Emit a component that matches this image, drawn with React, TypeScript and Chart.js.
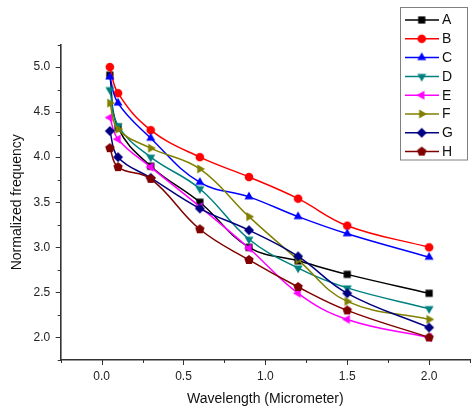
import React, { useEffect, useRef } from 'react';
import { Chart, registerables } from 'chart.js';

Chart.register(...registerables);

// ---- data ----
const wavelength = [0.05, 0.1, 0.3, 0.6, 0.9, 1.2, 1.5, 2.0];
const seriesA = [4.91, 4.33, 3.9, 3.5, 3.0, 2.85, 2.7, 2.49];
const seriesB = [5.0, 4.71, 4.3, 4.0, 3.78, 3.54, 3.24, 3.0];
const seriesC = [4.89, 4.6, 4.21, 3.72, 3.56, 3.34, 3.15, 2.89];
const seriesD = [4.75, 4.35, 4.0, 3.65, 3.09, 2.77, 2.55, 2.32];
const seriesE = [4.44, 4.2, 3.89, 3.45, 2.99, 2.49, 2.2, 2.0];
const seriesF = [4.6, 4.31, 4.1, 3.87, 3.34, 2.86, 2.4, 2.2];
const seriesG = [4.29, 4.0, 3.77, 3.43, 3.19, 2.9, 2.49, 2.11];
const seriesH = [4.1, 3.89, 3.76, 3.2, 2.86, 2.56, 2.3, 2.0];

const seriesNames = ['A', 'B', 'C', 'D', 'E', 'F', 'G', 'H'];
const seriesValues = [seriesA, seriesB, seriesC, seriesD, seriesE, seriesF, seriesG, seriesH];
const seriesColors = ['#000000', '#ff0000', '#0000ff', '#008080', '#ff00ff', '#808000', '#000080', '#800000'];
const markerShapes = ['square', 'circle', 'triUp', 'triDown', 'triLeft', 'triRight', 'diamond', 'pentagon'];

const xMin = -0.25;
const xMax = 2.25;
const yMin = 1.75;
const yMax = 5.25;
const tickStep = 0.25;

const xTitle = 'Wavelength (Micrometer)';
const yTitle = 'Normalized frequency';

const FONT = '"Liberation Sans", Arial, Helvetica, sans-serif';

function makeMarker(shape: string, color: string): HTMLCanvasElement {
  const s = 12;
  const c = document.createElement('canvas');
  c.width = s;
  c.height = s;
  const g = c.getContext('2d')!;
  const m = s / 2;
  g.fillStyle = color;
  g.beginPath();
  const poly = (n: number, r: number, start: number) => {
    for (let k = 0; k < n; k++) {
      const a = start + (k * 2 * Math.PI) / n;
      const px = m + r * Math.cos(a);
      const py = m + r * Math.sin(a);
      if (k === 0) g.moveTo(px, py);
      else g.lineTo(px, py);
    }
    g.closePath();
  };
  switch (shape) {
    case 'square':
      g.rect(m - 3.6, m - 3.6, 7.2, 7.2);
      break;
    case 'circle':
      g.arc(m, m, 4.3, 0, Math.PI * 2);
      break;
    case 'triUp':
      poly(3, 5.2, -Math.PI / 2);
      break;
    case 'triDown':
      poly(3, 5.2, Math.PI / 2);
      break;
    case 'triLeft':
      poly(3, 5.2, Math.PI);
      break;
    case 'triRight':
      poly(3, 5.2, 0);
      break;
    case 'diamond':
      poly(4, 5, -Math.PI / 2);
      break;
    case 'pentagon':
      poly(5, 4.9, -Math.PI / 2);
      break;
  }
  g.fill();
  return c;
}

const isMajor = (v: number) => Math.abs(v * 2 - Math.round(v * 2)) < 1e-6;

export default function App() {
  const ref = useRef<HTMLCanvasElement | null>(null);

  useEffect(() => {
    document.body.style.margin = '0';
    document.body.style.overflow = 'hidden';
    const canvas = ref.current;
    if (!canvas) return;

    const markers = seriesNames.map((_, i) => makeMarker(markerShapes[i], seriesColors[i]));

    const tickPlugin = {
      id: 'originTicks',
      afterDraw(chart: any) {
        const ctx = chart.ctx;
        const xs = chart.scales.x;
        const ys = chart.scales.y;
        const area = chart.chartArea;
        ctx.save();
        ctx.strokeStyle = '#333333';
        ctx.lineWidth = 1;
        ctx.beginPath();
        for (let v = xMin; v <= xMax + 1e-9; v += tickStep) {
          const px = Math.round(xs.getPixelForValue(v)) + 0.5;
          const len = isMajor(v) ? 5 : 3;
          ctx.moveTo(px, area.bottom);
          ctx.lineTo(px, area.bottom + len);
        }
        for (let v = yMin; v <= yMax + 1e-9; v += tickStep) {
          const py = Math.round(ys.getPixelForValue(v)) + 0.5;
          const len = isMajor(v) ? 5 : 3;
          ctx.moveTo(area.left, py);
          ctx.lineTo(area.left - len, py);
        }
        ctx.stroke();
        ctx.restore();
      },
    };

    const legendPlugin = {
      id: 'boxLegend',
      afterDraw(chart: any) {
        const ctx = chart.ctx;
        ctx.save();
        ctx.fillStyle = '#ffffff';
        ctx.fillRect(400.5, 7.5, 67, 152.5);
        ctx.strokeStyle = '#808080';
        ctx.lineWidth = 1;
        ctx.strokeRect(400.5, 7.5, 67, 152.5);
        ctx.font = `14px ${FONT}`;
        ctx.textBaseline = 'middle';
        ctx.textAlign = 'left';
        seriesNames.forEach((name, i) => {
          const y = 20 + i * 18.8;
          ctx.strokeStyle = seriesColors[i];
          ctx.lineWidth = 1.5;
          ctx.beginPath();
          ctx.moveTo(405, y);
          ctx.lineTo(439, y);
          ctx.stroke();
          ctx.drawImage(markers[i], 421.7 - 6, y - 6);
          ctx.fillStyle = '#111111';
          ctx.fillText(name, 442, y + 0.5);
        });
        ctx.restore();
      },
    };

    const datasets = seriesNames.map((name, i) => ({
      label: name,
      data: wavelength.map((x, k) => ({ x, y: seriesValues[i][k] })),
      borderColor: seriesColors[i],
      backgroundColor: seriesColors[i],
      borderWidth: 1.5,
      pointStyle: markers[i],
      pointRadius: 4.5,
      pointHoverRadius: 4.5,
      tension: 0.4,
      order: seriesNames.length - 1 - i,
      fill: false,
    }));

    const chart = new Chart(canvas, {
      type: 'line',
      data: { datasets },
      options: {
        responsive: false,
        animation: false,
        devicePixelRatio: 1,
        layout: { padding: { top: 44.5, right: 0, bottom: 0, left: 0 } },
        plugins: {
          legend: { display: false },
          tooltip: { enabled: false },
        },
        scales: {
          x: {
            type: 'linear',
            min: xMin,
            max: xMax,
            afterFit: (s: any) => {
              s.height = 52;
            },
            grid: { display: false, drawTicks: true, tickLength: 5 },
            border: { display: true, color: '#333333', width: 1.6 },
            ticks: {
              stepSize: tickStep,
              autoSkip: false,
              maxRotation: 0,
              padding: 4,
              color: '#222222',
              font: { family: FONT, size: 12 },
              callback: (v: any) => (isMajor(Number(v)) ? Number(v).toFixed(1) : ''),
            },
            title: {
              display: true,
              text: xTitle,
              color: '#111111',
              font: { family: FONT, size: 14 },
              padding: { top: 0, bottom: 4 },
            },
          },
          y: {
            type: 'linear',
            min: yMin,
            max: yMax,
            afterFit: (s: any) => {
              s.width = 60.7;
            },
            grid: { display: false, drawTicks: true, tickLength: 5 },
            border: { display: true, color: '#333333', width: 1.6 },
            ticks: {
              stepSize: tickStep,
              autoSkip: false,
              padding: 5.5,
              color: '#222222',
              font: { family: FONT, size: 12 },
              callback: (v: any) => (isMajor(Number(v)) ? Number(v).toFixed(1) : ''),
            },
            title: {
              display: true,
              text: yTitle,
              color: '#111111',
              font: { family: FONT, size: 14 },
              padding: { top: 9, bottom: 0 },
            },
          },
        },
      },
      plugins: [tickPlugin, legendPlugin],
    });

    return () => {
      chart.destroy();
    };
  }, []);

  return (
    <div style={{ width: 476, height: 412, overflow: 'hidden' }}>
      <canvas ref={ref} width={476} height={412} style={{ display: 'block', width: 476, height: 412 }} />
    </div>
  );
}
